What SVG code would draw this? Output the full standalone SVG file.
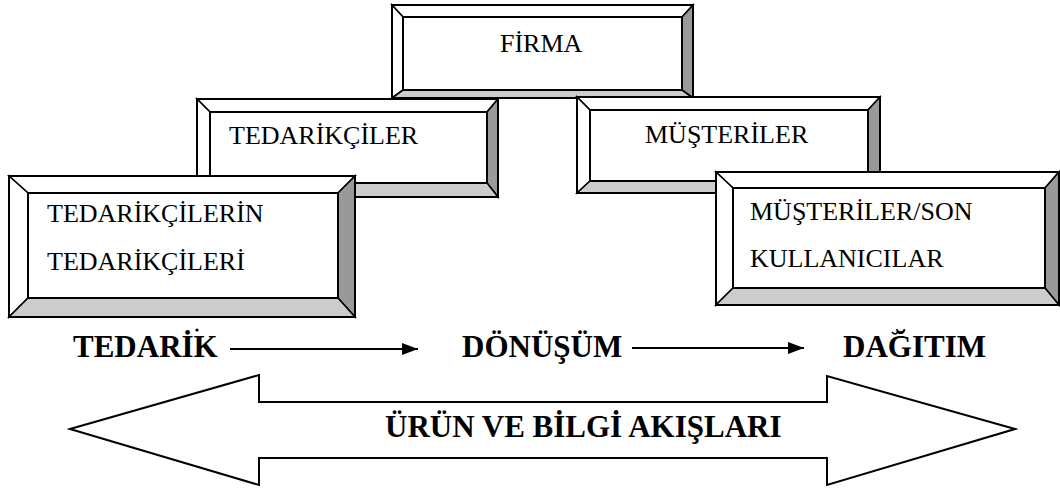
<svg xmlns="http://www.w3.org/2000/svg" width="1060" height="488" viewBox="0 0 1060 488">
<defs>
<style>
.bv{stroke:#000;stroke-width:1.6;stroke-linejoin:miter}
.lt{fill:#fff}
.dk{fill:#999}
.md{fill:#ccc}
.face{fill:#fff;stroke:#000;stroke-width:2}
.out{fill:none;stroke:#000;stroke-width:2}
.lbl{font-family:"Liberation Serif","Times New Roman",Tinos,"DejaVu Serif",serif;font-size:26px;font-weight:normal;fill:#000}
.stg{font-family:"Liberation Serif","Times New Roman",Tinos,"DejaVu Serif",serif;font-size:31px;font-weight:bold;fill:#000}
.ln{stroke:#000;stroke-width:2;fill:none}
</style>
<marker id="ah" viewBox="0 0 16 12" refX="16" refY="6" markerWidth="16" markerHeight="12" markerUnits="userSpaceOnUse" orient="auto">
<path d="M0,0 L16,6 L0,12 Z" fill="#000"/>
</marker>
</defs>
<rect width="1060" height="488" fill="#fff"/>

<g id="firma">
<polygon class="bv lt" points="392,5 693,5 682,17 403,17"/>
<polygon class="bv lt" points="392,5 403,17 403,90 392,98"/>
<polygon class="bv dk" points="693,5 693,98 682,90 682,17"/>
<polygon class="bv md" points="392,98 693,98 682,90 403,90"/>
<rect class="face" x="403" y="17" width="279" height="73"/>
<rect class="out" x="392" y="5" width="301" height="93"/>
<text class="lbl" x="500" y="52" font-family="Liberation Serif, serif">FİRMA</text>
</g>

<g id="tedarikciler">
<polygon class="bv lt" points="197,99 498,99 487,112 210,112"/>
<polygon class="bv lt" points="197,99 210,112 210,183 197,197"/>
<polygon class="bv dk" points="498,99 498,197 487,183 487,112"/>
<polygon class="bv md" points="197,197 498,197 487,183 210,183"/>
<rect class="face" x="210" y="112" width="277" height="71"/>
<rect class="out" x="197" y="99" width="301" height="98"/>
<text class="lbl" x="229" y="144">TEDARİKÇİLER</text>
</g>

<g id="musteriler">
<polygon class="bv lt" points="577,97 880,97 868,110 590,110"/>
<polygon class="bv lt" points="577,97 590,110 590,181 577,193"/>
<polygon class="bv dk" points="880,97 880,193 868,181 868,110"/>
<polygon class="bv md" points="577,193 880,193 868,181 590,181"/>
<rect class="face" x="590" y="110" width="278" height="71"/>
<rect class="out" x="577" y="97" width="303" height="96"/>
<text class="lbl" x="645" y="143">MÜŞTERİLER</text>
</g>

<g id="tedarikcilerin-tedarikcileri">
<polygon class="bv lt" points="9,176 355,176 338,193 28,193"/>
<polygon class="bv lt" points="9,176 28,193 28,298 9,317"/>
<polygon class="bv dk" points="355,176 355,317 338,298 338,193"/>
<polygon class="bv md" points="9,317 355,317 338,298 28,298"/>
<rect class="face" x="28" y="193" width="310" height="105"/>
<rect class="out" x="9" y="176" width="346" height="141"/>
<text class="lbl" x="47" y="222">TEDARİKÇİLERİN</text>
<text class="lbl" x="47" y="270">TEDARİKÇİLERİ</text>
</g>

<g id="musteriler-son-kullanicilar">
<polygon class="bv lt" points="716,172 1059,172 1045,188 733,188"/>
<polygon class="bv lt" points="716,172 733,188 733,288 716,305"/>
<polygon class="bv dk" points="1059,172 1059,305 1045,288 1045,188"/>
<polygon class="bv md" points="716,305 1059,305 1045,288 733,288"/>
<rect class="face" x="733" y="188" width="312" height="100"/>
<rect class="out" x="716" y="172" width="343" height="133"/>
<text class="lbl" x="750" y="220">MÜŞTERİLER/SON</text>
<text class="lbl" x="750" y="267">KULLANICILAR</text>
</g>

<circle cx="197" cy="330" r="1.6" fill="#000"/>
<path d="M892,332 Q895,336 898,332" stroke="#000" stroke-width="1.5" fill="none"/>

<g id="stages">
<text class="stg" x="73" y="357">TEDARİK</text>
<text class="stg" x="462" y="357">DÖNÜŞÜM</text>
<text class="stg" x="843" y="357">DAĞITIM</text>
</g>

<g id="connectors">
<line class="ln" x1="230" y1="349" x2="418" y2="349" marker-end="url(#ah)"/>
<line class="ln" x1="632" y1="348" x2="804" y2="348" marker-end="url(#ah)"/>
</g>

<g id="flow-arrow">
<polygon points="70,429 259,375 259,402 827,402 827,376 1015,429 827,485 827,458 259,458 259,485" fill="#fff" stroke="#000" stroke-width="2" stroke-linejoin="miter"/>
<text class="stg" x="385" y="437">ÜRÜN VE BİLGİ AKIŞLARI</text>
</g>
</svg>
